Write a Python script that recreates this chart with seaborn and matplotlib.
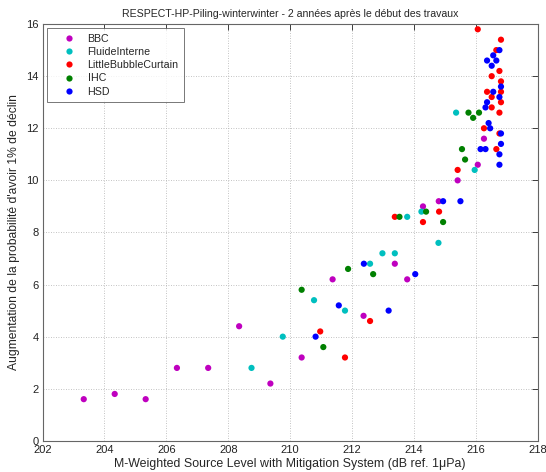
import matplotlib
matplotlib.use("Agg")
import matplotlib.pyplot as plt
import seaborn as sns
import pandas as pd

series_names = ["BBC", "FluideInterne", "LittleBubbleCurtain", "IHC", "HSD"]
series_colors = ["#bf00bf", "#00bfbf", "#ff0000", "#008000", "#0000ff"]

bbc_x = [203.33, 204.33, 205.33, 206.34, 207.35, 208.35, 209.36, 210.37, 211.37, 212.37, 213.38, 213.78, 214.29, 214.8, 215.41, 216.06, 216.26]
bbc_y = [1.6, 1.8, 1.6, 2.8, 2.8, 4.4, 2.2, 3.2, 6.2, 4.8, 6.8, 6.2, 9.0, 9.2, 10.0, 10.6, 11.6]

fluide_x = [208.75, 209.76, 210.77, 211.77, 212.58, 212.98, 213.38, 213.78, 214.24, 214.79, 215.96, 215.36]
fluide_y = [2.8, 4.0, 5.4, 5.0, 6.8, 7.2, 7.2, 8.6, 8.8, 7.6, 10.4, 12.6]

lbc_x = [210.97, 211.77, 212.58, 213.38, 214.29, 214.81, 215.41, 216.06, 216.81, 216.66, 216.76, 216.51, 216.81, 216.36, 216.81, 216.51, 216.81, 216.51, 216.76, 216.26, 216.76, 216.66]
lbc_y = [4.2, 3.2, 4.6, 8.6, 8.4, 8.8, 10.4, 15.8, 15.4, 15.0, 14.2, 14.0, 13.8, 13.4, 13.4, 13.2, 13.0, 12.8, 12.6, 12.0, 11.8, 11.2]

ihc_x = [210.37, 211.07, 211.87, 212.68, 213.53, 214.39, 214.94, 215.55, 215.65, 215.76, 215.91, 216.1]
ihc_y = [5.8, 3.6, 6.6, 6.4, 8.6, 8.8, 8.4, 11.2, 10.8, 12.6, 12.4, 12.6]

hsd_x = [210.82, 211.57, 212.38, 213.18, 214.04, 214.94, 215.5, 216.76, 216.56, 216.36, 216.66, 216.51, 216.81, 216.56, 216.76, 216.36, 216.31, 216.41, 216.46, 216.81, 216.81, 216.15, 216.31, 216.76, 216.76]
hsd_y = [4.0, 5.2, 6.8, 5.0, 6.4, 9.2, 9.2, 15.0, 14.8, 14.6, 14.6, 14.4, 13.6, 13.4, 13.2, 13.0, 12.8, 12.2, 12.0, 11.8, 11.4, 11.2, 11.2, 11.0, 10.6]

x_ticks = [202, 204, 206, 208, 210, 212, 214, 216, 218]
y_ticks = [0, 2, 4, 6, 8, 10, 12, 14, 16]

frames = []
for name, xs, ys in zip(series_names,
                        [bbc_x, fluide_x, lbc_x, ihc_x, hsd_x],
                        [bbc_y, fluide_y, lbc_y, ihc_y, hsd_y]):
    frames.append(pd.DataFrame({"x": xs, "y": ys, "serie": name}))
df = pd.concat(frames, ignore_index=True)

sns.set_style("white")
plt.rcParams["font.family"] = ["Liberation Sans", "DejaVu Sans"]

fig = plt.figure(figsize=(5.46, 4.72), dpi=100)
ax = fig.add_axes([0.078, 0.066, 0.907, 0.883])

sns.scatterplot(data=df, x="x", y="y", hue="serie", hue_order=series_names,
                palette=dict(zip(series_names, series_colors)),
                s=20, edgecolor="none", linewidth=0, ax=ax, legend=True)

ax.set_xlim(202, 218)
ax.set_ylim(0, 16)
ax.set_xticks(x_ticks)
ax.set_yticks(y_ticks)
ax.tick_params(direction="in", length=4, width=0.6, top=True, right=True,
               labelsize=8, colors="#222222", pad=3)
ax.grid(True, linestyle=(0, (1, 2)), color="#b0b0b0", linewidth=0.6)
for sp in ax.spines.values():
    sp.set_color("#666666")
    sp.set_linewidth(0.8)

ax.set_xlabel("M-Weighted Source Level with Mitigation System (dB ref. 1μPa)", fontsize=8.9, labelpad=2)
ax.set_ylabel("Augmentation de la probabilité d'avoir 1% de déclin", fontsize=8.7, labelpad=4)
ax.set_title("RESPECT-HP-Piling-winterwinter - 2 années après le début des travaux", fontsize=7.6, pad=5)

leg = ax.legend(loc="upper left", fontsize=7.7, frameon=True, fancybox=False,
                markerscale=1.0, handletextpad=0.1, borderpad=0.5,
                labelspacing=0.3, borderaxespad=0.4, handlelength=3.2)
leg.get_frame().set_edgecolor("#555555")
leg.get_frame().set_linewidth(0.7)

fig.savefig("out.png", dpi=100)
